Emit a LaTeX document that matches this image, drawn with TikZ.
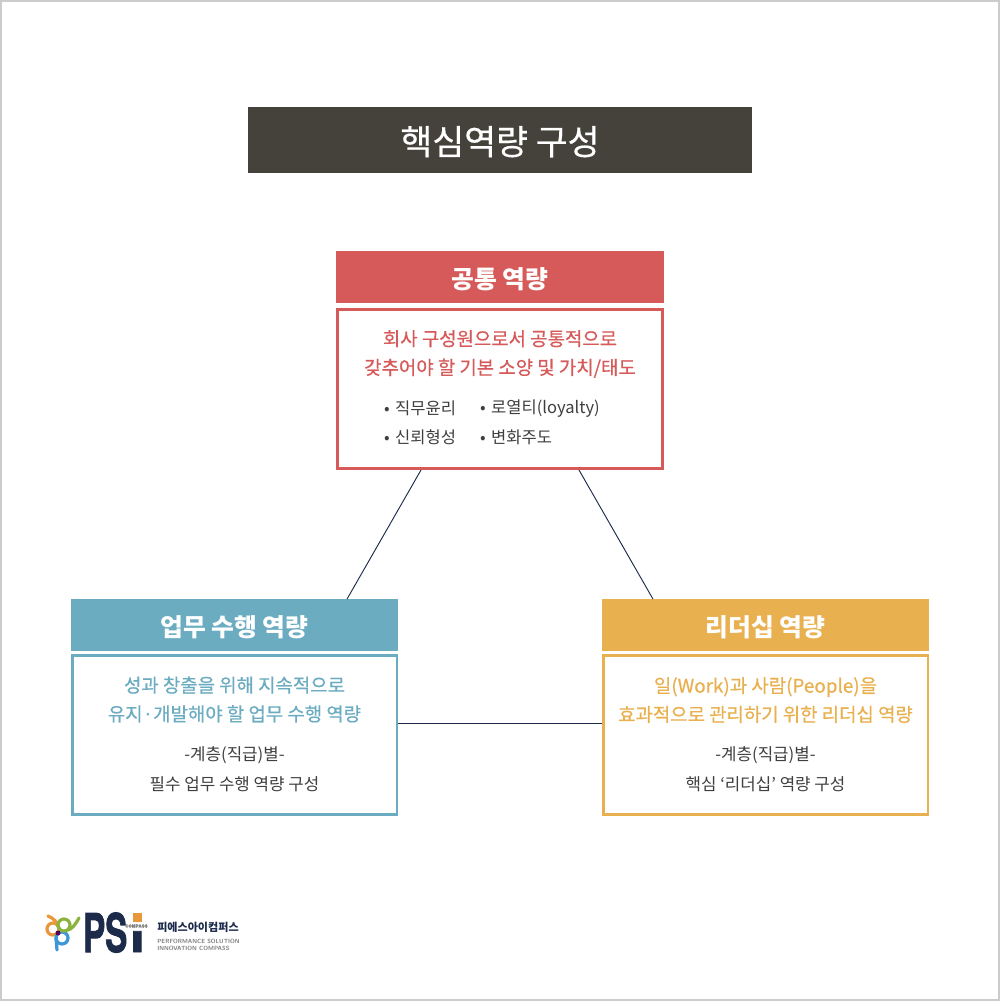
\documentclass[tikz,border=0pt]{standalone}
\usepackage{fontspec}
\usepackage{xcolor}
\setmainfont{Noto Sans CJK KR}
\newfontfamily\logofont[FakeBold=2]{TeX Gyre Heros Bold}
\newfontfamily\medfont[FakeBold=0.5]{Noto Sans CJK KR}
\usetikzlibrary{positioning,matrix,calc}
\definecolor{rosso}{HTML}{D65A5A}
\definecolor{azzurro}{HTML}{6BACC1}
\definecolor{giallo}{HTML}{E9B04F}
\definecolor{scuro}{HTML}{45423C}
\definecolor{testo}{HTML}{3F3F3F}
\definecolor{notte}{HTML}{1C2B4A}
\tikzset{%
  titolo/.style={%
    fill=scuro, text=white, inner sep=0pt,
    minimum width=378pt, minimum height=50pt,
    text height=23pt, text depth=1pt,
    font={\medfont\fontsize{26}{30}\selectfont}
  },
  testa/.style={%
    fill=#1, text=white, inner sep=0pt,
    minimum width=245.5pt, minimum height=38.5pt,
    text height=17pt, text depth=0pt,
    font={\fontsize{18.6}{22}\selectfont\bfseries}
  },
  corpo/.style={%
    draw=#1, line width=2pt, fill=white, inner sep=0pt,
    minimum width=243.5pt, minimum height=119.5pt
  },
  motto/.style={%
    text=#1, align=center, inner sep=0pt,
    font={\medfont\fontsize{14.15}{21.6}\selectfont}
  },
  nota/.style={%
    text=testo, align=center, inner sep=0pt,
    font={\fontsize{12.6}{22.3}\selectfont}
  },
  voci/.style={%
    matrix of nodes,
    nodes in empty cells,
    column sep=0pt, row sep=0pt,
    nodes={%
      text=testo, inner sep=0pt, anchor=west,
      minimum height=21.8pt,
      font={\fontsize{12.4}{15}\selectfont}
    },
    column 1/.style={nodes={text width=72pt}},
    column 2/.style={nodes={text width=96pt}}
  },
  legame/.style={notte, line width=0.7pt},
  petalo/.style={line width=2.4pt, line cap=round},
  marchio/.style={inner sep=0pt, text=notte, transform shape, font={\logofont\fontsize{40}{40}\selectfont}}
}
\definecolor{arancio}{HTML}{E8973A}
\definecolor{verde}{HTML}{8DB33F}
\definecolor{blu}{HTML}{3D96D6}
\begin{document}
\begin{tikzpicture}[x=0.75pt,y=-0.75pt]
\useasboundingbox (0,0) rectangle (1000,1001);
\draw[draw=black!20, line width=1.5pt, fill=white] (1,1) rectangle (999,1000);

\node[titolo] (title) at (500,140) {핵심역량 구성};

% three boxes
\node[corpo=rosso] (bcommon) at (500,389) {};
\node[testa=rosso] (hcommon) at (500,277) {공통 역량};
\node[corpo=azzurro] (bwork) at (234.5,735) {};
\node[testa=azzurro] (hwork) at (234.5,625) {업무 수행 역량};
\node[corpo=giallo] (blead) at (765.5,735) {};
\node[testa=giallo] (hlead) at (765.5,625) {리더십 역량};

\draw[legame] ($(bcommon.south)+(-79,0)$) -- ($(hwork.north)+(112.5,0)$);
\draw[legame] ($(bcommon.south)+(79,0)$) -- ($(hlead.north)+(-112.5,0)$);
\draw[legame] ($(bwork.east)+(0,-12)$) -- ($(blead.west)+(0,-12)$);

\node[motto=rosso] (mcommon) at (500,354) {회사 구성원으로서 공통적으로\\갖추어야 할 기본 소양 및 가치/태도};
\matrix (lcommon) [voci] at (496,423) {
• 직무윤리 & • 로열티(loyalty) \\
• 신뢰형성 & • 변화주도 \\
};

\node[motto=azzurro] (mwork) at (234.5,699.5) {성과 창출을 위해 지속적으로\\유지·개발해야 할 업무 수행 역량};
\node[nota] (nwork) at (234.5,769) {-계층(직급)별-\\필수 업무 수행 역량 구성};

\node[motto=giallo] (mlead) at (765.5,700) {일(Work)과 사람(People)을\\효과적으로 관리하기 위한 리더십 역량};
\node[nota] (nlead) at (765.5,769) {-계층(직급)별-\\핵심 ‘리더십’ 역량 구성};

% logo
\draw[petalo, arancio] (53,929) circle (6);
\draw[petalo, arancio] (48,916) .. controls (53,918) and (58,922) .. (59,929);
\draw[petalo, blu] (62,938) circle (6);
\draw[petalo, blu] (57,950) -- (56,938);
\draw[petalo, verde] (64,925) circle (6);
\draw[petalo, verde] (79,918) .. controls (75,925) and (72,929) .. (68,930);
\fill[violet!70!black] (58,933) circle (2.5);
\node[marchio, anchor=base west, xscale=0.62] (psi) at (83,952) {PS};
\node[marchio, anchor=base, yscale=0.72] (psidot) at (137.5,952) {ı};
\fill[arancio] (133,913) rectangle (142,922);
\node[anchor=east, inner sep=0pt, text=black!50,
  font={\logofont\fontsize{3.4}{4}\selectfont}] (compass) at (148,926) {COMPASS};
\node[anchor=west, inner sep=0pt, text=notte,
  font={\fontsize{8.3}{9}\selectfont\bfseries}] (kname) at (157,927) {피에스아이컴퍼스};
\node[anchor=north west, align=left, inner sep=0pt, text=black!50,
  font={\fontsize{4.5}{5.2}\selectfont\bfseries\sffamily}] (slogan) at (157,938.5) {PERFORMANCE SOLUTION\\INNOVATION COMPASS};
\end{tikzpicture}
\end{document}
